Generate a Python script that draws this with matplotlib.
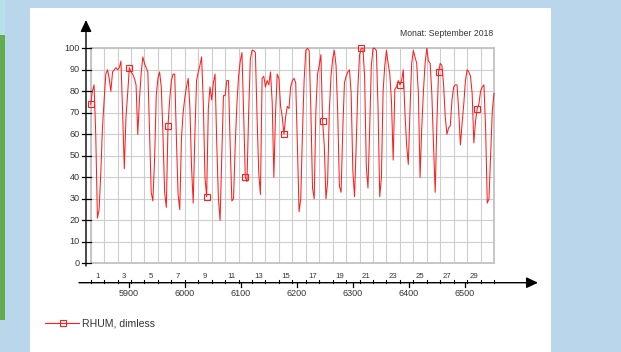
import numpy as np
import matplotlib
matplotlib.use("Agg")
import matplotlib.pyplot as plt
from matplotlib import transforms as mtransforms
from matplotlib.patches import Rectangle
from matplotlib.lines import Line2D

plt.rcParams["font.family"] = ["Liberation Sans", "DejaVu Sans"]

# ---- data -----------------------------------------------------------------
# relative humidity, 3-hourly samples, September 2018 (hour-of-year axis)
start_hour = 5832          # 1 Sep 2018 00:00 as hour of the year
end_hour = 6552            # 1 Oct 2018 00:00
step_hours = 3
rhum = [
    74, 80, 83, 60, 21, 25, 42, 63,     # 1
    76, 88, 90, 86, 80, 89, 90, 91,     # 2
    90, 91, 94, 70, 44, 68, 79, 91,     # 3
    89, 88, 86, 83, 60, 76, 88, 96,     # 4
    93, 91, 89, 62, 33, 29, 48, 78,     # 5
    86, 89, 82, 60, 33, 26, 64, 76,     # 6
    85, 88, 88, 58, 32, 25, 58, 70,     # 7
    77, 82, 86, 73, 45, 28, 60, 85,     # 8
    89, 92, 96, 75, 40, 31, 72, 82,     # 9
    76, 84, 88, 56, 30, 20, 50, 78,     # 10
    78, 85, 85, 55, 29, 30, 55, 74,     # 11
    87, 94, 98, 70, 40, 38, 70, 95,     # 12
    99, 99, 98, 68, 42, 32, 86, 87,     # 13
    82, 85, 83, 89, 75, 40, 70, 88,     # 14
    86, 73, 68, 60, 68, 73, 72, 82,     # 15
    85, 86, 84, 55, 24, 30, 60, 85,     # 16
    99, 100, 99, 72, 35, 30, 71, 88,    # 17
    92, 97, 66, 55, 30, 38, 71, 87,     # 18
    95, 99, 92, 70, 36, 33, 62, 84,     # 19
    87, 89, 90, 79, 43, 31, 55, 82,     # 20
    97, 100, 100, 87, 45, 35, 62, 92,   # 21
    100, 100, 99, 72, 31, 40, 80, 92,   # 22
    99, 93, 88, 75, 48, 81, 82, 85,     # 23
    83, 85, 90, 70, 55, 46, 71, 93,     # 24
    99, 96, 93, 79, 40, 63, 80, 93,     # 25
    100, 94, 93, 79, 55, 33, 65, 89,    # 26
    93, 92, 83, 68, 60, 63, 64, 76,     # 27
    82, 83, 83, 71, 55, 65, 74, 85,     # 28
    90, 89, 87, 79, 56, 66, 72, 74,     # 29
    80, 82, 83, 63, 28, 30, 50, 71,     # 30
    79,
]
hours = start_hour + step_hours * np.arange(len(rhum))
marker_every = 23

day_numbers = list(range(1, 31))
day_labels = [str(d) if d % 2 == 1 else "" for d in day_numbers]
hour_ticks = [5900, 6000, 6100, 6200, 6300, 6400, 6500]
y_ticks = list(range(0, 101, 10))

series_label = "RHUM, dimless"
title = "Monat: September 2018"

# ---- figure ---------------------------------------------------------------
W, H, DPI = 621, 352, 100
fig = plt.figure(figsize=(W / DPI, H / DPI), dpi=DPI)
fig.patch.set_facecolor("#b9d6eb")


def fx(px):
    return px / W


def fy(py):
    return 1 - py / H


# page decoration: side strip and white sheet
fig.add_artist(Rectangle((0, fy(320)), fx(5), fy(35) - fy(320),
                         transform=fig.transFigure, facecolor="#62ad4f",
                         edgecolor="none", zorder=-2))
fig.add_artist(Rectangle((0, fy(35)), fx(5), 1 - fy(35),
                         transform=fig.transFigure, facecolor="#b6e1ea",
                         edgecolor="none", zorder=-2))
fig.add_artist(Rectangle((fx(30), 0), fx(551) - fx(30), fy(7.5),
                         transform=fig.transFigure, facecolor="white",
                         edgecolor="none", zorder=-1))

# plotting area
L, R, T, B = 90.7, 494.0, 48.3, 263.3
ax = fig.add_axes([fx(L), fy(B), fx(R) - fx(L), fy(T) - fy(B)])
ax.set_facecolor("white")
ax.set_xlim(start_hour, end_hour)
ax.set_ylim(0, 100)
ax.set_xticks(np.arange(start_hour, end_hour + 1, 24))
ax.set_yticks(y_ticks)
ax.tick_params(length=0, labelbottom=False, labelleft=False)
ax.grid(True, color="#cdcdcd", linewidth=0.8)
ax.set_axisbelow(True)
for s in ax.spines.values():
    s.set_color("#c2c2c2")
    s.set_linewidth(1.3)

line_color = "#ff1f1f"
ax.plot(hours, rhum, color=line_color, linewidth=0.75,
        marker="s", markevery=marker_every, markersize=4.0,
        markerfacecolor="none", markeredgecolor=line_color,
        markeredgewidth=0.8, clip_on=False, zorder=3)

text_color = "#333333"
arrow = dict(arrowstyle="-|>,head_length=0.7,head_width=0.33",
             color="black", lw=1.0, shrinkA=0, shrinkB=0)

# y axis with arrow
ax.annotate("", xy=(86, H - 20), xycoords="figure pixels",
            xytext=(86, H - 266), textcoords="figure pixels",
            arrowprops=arrow, annotation_clip=False)
ty = mtransforms.blended_transform_factory(fig.transFigure, ax.transData)
for v in y_ticks:
    fig.add_artist(Line2D([fx(82), fx(90.5)], [v, v], transform=ty,
                          color="black", lw=0.9))
    fig.text(fx(80), v, str(v), transform=ty, ha="right", va="center",
             fontsize=6.6, color=text_color)

# x axis with arrow
x_axis_y = 282.7
ax.annotate("", xy=(538, H - x_axis_y), xycoords="figure pixels",
            xytext=(79, H - x_axis_y), textcoords="figure pixels",
            arrowprops=arrow, annotation_clip=False)
tx = mtransforms.blended_transform_factory(ax.transData, fig.transFigure)
day_edges = start_hour + 24 * np.arange(len(day_numbers) + 1)
for h in day_edges:
    fig.add_artist(Line2D([h, h], [fy(x_axis_y), fy(x_axis_y - 2.8)],
                          transform=tx, color="black", lw=0.8))
for d, lab in zip(day_numbers, day_labels):
    if lab:
        fig.text(start_hour + 24 * (d - 1) + 12, fy(277), lab, transform=tx,
                 ha="center", va="center", fontsize=5.6, color=text_color)
for t in hour_ticks:
    fig.add_artist(Line2D([t, t], [fy(x_axis_y), fy(x_axis_y + 4)],
                          transform=tx, color="black", lw=0.9))
    fig.text(t, fy(293.5), str(t), transform=tx, ha="center", va="center",
             fontsize=6.5, color=text_color)

# caption
fig.text(fx(492.7), fy(34), title, ha="right", va="center",
         fontsize=6.2, color=text_color)

# legend
fig.add_artist(Line2D([fx(45), fx(79)], [fy(323), fy(323)],
                      transform=fig.transFigure, color=line_color, lw=0.8))
fig.add_artist(Line2D([fx(62.5)], [fy(323)], transform=fig.transFigure,
                      marker="s", markersize=4.0, markerfacecolor="none",
                      markeredgecolor=line_color, markeredgewidth=0.8,
                      linestyle="none"))
fig.text(fx(82), fy(323), series_label, ha="left", va="center",
         fontsize=7.6, color=text_color)

fig.savefig("out.png", dpi=DPI, facecolor=fig.get_facecolor())
